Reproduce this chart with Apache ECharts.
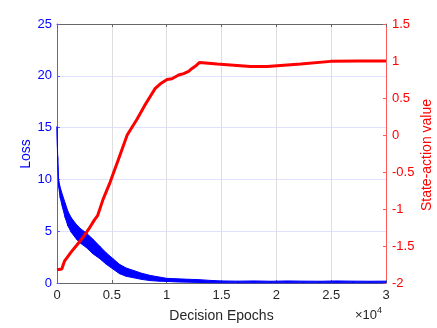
<!DOCTYPE html>
<html>
<head>
<meta charset="utf-8">
<style>
  html, body { margin: 0; padding: 0; background: #fff; }
  #chart { width: 437px; height: 328px; }
</style>
<script src="https://cdn.jsdelivr.net/npm/echarts@6/dist/echarts.min.js"></script>
</head>
<body>
<div id="chart"></div>
<script>
  // loss band (noisy line drawn as low/high envelope)
  const lossEpochs = [0, 60, 150, 300, 500, 750, 1000, 1300, 1800, 2200, 2700, 3300, 3900, 4500, 5100, 5700, 6300, 7000, 7700, 8500, 9300, 10000, 11000, 12000, 13000, 14000, 15000, 16500, 18000, 19500, 21000, 22500, 24000, 25500, 27000, 28500, 30000]
  const lossHigh = [15.1, 12.2, 9.9, 9.2, 8.5, 7.7, 6.9, 6.3, 5.6, 5.2, 4.8, 4.2, 3.55, 2.9, 2.35, 1.8, 1.45, 1.2, 0.95, 0.73, 0.58, 0.45, 0.4, 0.36, 0.32, 0.25, 0.2, 0.18, 0.2, 0.17, 0.2, 0.18, 0.17, 0.2, 0.18, 0.17, 0.18]
  const lossLow = [14.9, 11.8, 9.3, 8.2, 7.3, 6.3, 5.5, 4.9, 4.2, 3.8, 3.4, 2.8, 2.35, 1.8, 1.35, 0.9, 0.65, 0.5, 0.35, 0.23, 0.18, 0.15, 0.1, 0.08, 0.05, 0.03, 0.02, 0.02, 0.02, 0.02, 0.02, 0.02, 0.02, 0.02, 0.02, 0.02, 0.02]

  // state-action value
  const qEpochs = [0, 450, 550, 700, 900, 1300, 1800, 2380, 2900, 3400, 3700, 4200, 4840, 5600, 6400, 7280, 8000, 8500, 8960, 9500, 10030, 10480, 11090, 11550, 12000, 12310, 12700, 13010, 14600, 17640, 19170, 22210, 24950, 27390, 30000]
  const qValues = [-1.82, -1.81, -1.76, -1.70, -1.66, -1.58, -1.49, -1.38, -1.27, -1.15, -1.09, -0.87, -0.64, -0.33, 0.0, 0.21, 0.40, 0.52, 0.63, 0.70, 0.75, 0.76, 0.81, 0.83, 0.86, 0.90, 0.94, 0.98, 0.96, 0.925, 0.925, 0.96, 0.995, 1.0, 1.0]

  const font = 'Liberation Sans, Arial, Helvetica, sans-serif'
  const blue = '#0000ff'
  const red = '#ff0000'
  const dark = '#262626'

  const chart = echarts.init(document.getElementById('chart'))

  // one segment of the band per item: x0, low0, high0, x1, low1, high1
  const bandSegs = []
  for (let i = 0; i < lossEpochs.length - 1; i++) {
    bandSegs.push([lossEpochs[i], lossLow[i], lossHigh[i], lossEpochs[i + 1], lossLow[i + 1], lossHigh[i + 1]])
  }
  const qData = qEpochs.map((x, i) => [x, qValues[i]])

  function renderBand(params, api) {
    const a = api.coord([api.value(0), api.value(2)])
    const b = api.coord([api.value(3), api.value(5)])
    const c = api.coord([api.value(3), api.value(4)])
    const d = api.coord([api.value(0), api.value(1)])
    return {
      type: 'polygon',
      shape: { points: [a, b, c, d] },
      style: { fill: blue, stroke: blue, lineWidth: 1 }
    }
  }

  chart.setOption({
    backgroundColor: '#fff',
    animation: false,
    textStyle: { fontFamily: font },
    grid: { left: 57, right: 51, top: 24, bottom: 44 },
    xAxis: [{
      type: 'value',
      min: 0,
      max: 30000,
      interval: 5000,
      position: 'bottom',
      name: 'Decision Epochs',
      nameLocation: 'middle',
      nameGap: 26,
      nameTextStyle: { color: dark, fontSize: 14, fontFamily: font },
      axisLine: { onZero: false, lineStyle: { color: '#666', width: 1 } },
      axisTick: { inside: true, length: 3, lineStyle: { color: '#666' } },
      axisLabel: { color: dark, fontSize: 13, margin: 6, formatter: v => String(v / 10000) },
      splitLine: { show: true, lineStyle: { color: '#dedede', width: 1 } }
    }, {
      type: 'value',
      min: 0,
      max: 30000,
      interval: 5000,
      position: 'top',
      axisLine: { onZero: false, lineStyle: { color: '#666', width: 1 } },
      axisTick: { inside: true, length: 3, lineStyle: { color: '#666' } },
      axisLabel: { show: false },
      splitLine: { show: false }
    }],
    yAxis: [{
      type: 'value',
      min: 0,
      max: 25,
      interval: 5,
      position: 'left',
      axisLine: { show: true, onZero: false, lineStyle: { color: '#5a5aff', width: 1 } },
      axisTick: { show: true, inside: true, length: 3, lineStyle: { color: '#5a5aff' } },
      axisLabel: { color: blue, fontSize: 13, margin: 5 },
      splitLine: { show: true, lineStyle: { color: '#e0e0ff', width: 1 } }
    }, {
      type: 'value',
      min: -2,
      max: 1.5,
      interval: 0.5,
      position: 'right',
      axisLine: { show: true, onZero: false, lineStyle: { color: '#ff5a5a', width: 1 } },
      axisTick: { show: true, inside: true, length: 3, lineStyle: { color: '#ff5a5a' } },
      axisLabel: { color: red, fontSize: 13, margin: 6 },
      splitLine: { show: false }
    }],
    series: [{
      name: 'Loss',
      type: 'custom',
      xAxisIndex: 0,
      yAxisIndex: 0,
      renderItem: renderBand,
      encode: { x: [0, 3], y: [1, 2, 4, 5] },
      data: bandSegs,
      z: 2
    }, {
      name: 'State-action value',
      type: 'line',
      xAxisIndex: 0,
      yAxisIndex: 1,
      data: qData,
      showSymbol: false,
      lineStyle: { color: red, width: 3 },
      z: 3
    }],
    graphic: [{
      type: 'text',
      x: 26,
      y: 154,
      rotation: Math.PI / 2,
      style: { text: 'Loss', fill: blue, fontSize: 14, fontFamily: font, align: 'center', verticalAlign: 'middle' }
    }, {
      type: 'text',
      x: 427,
      y: 155,
      rotation: Math.PI / 2,
      style: { text: 'State-action value', fill: red, fontSize: 14, fontFamily: font, align: 'center', verticalAlign: 'middle' }
    }, {
      type: 'text',
      left: 355,
      top: 306,
      style: {
        text: '{a|×10}{b|4}',
        rich: {
          a: { fontSize: 13, fill: dark, fontFamily: font },
          b: { fontSize: 9, fill: dark, fontFamily: font, padding: [0, 0, 10, 0] }
        }
      }
    }]
  })
</script>
</body>
</html>
